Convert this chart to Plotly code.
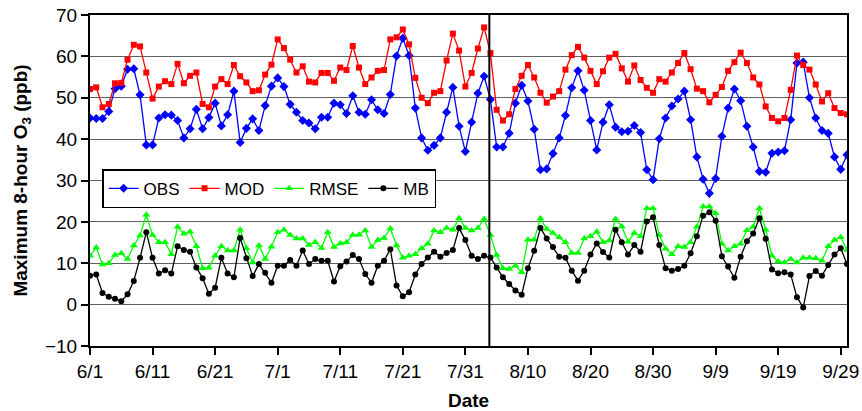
import pandas as pd
import plotly.graph_objects as go

dates = pd.date_range("2005-06-01", "2005-09-30", freq="D")

obs = [45.1, 45.0, 45.0, 46.7, 52.2, 52.8, 56.9, 57.0, 50.7, 38.6,
       38.6, 45.1, 45.9, 45.8, 44.5, 40.3, 42.5, 47.2, 42.5, 45.2,
       48.7, 43.2, 45.9, 51.6, 39.2, 42.6, 44.9, 42.1, 48.1, 52.8,
       54.8, 52.7, 48.4, 46.5, 44.5, 43.9, 42.5, 45.3, 45.3, 48.7,
       48.3, 46.2, 50.5, 46.5, 46.0, 49.5, 47.1, 46.2, 50.8, 60.1,
       64.4, 60.2, 47.5, 40.3, 37.3, 38.5, 40.3, 46.5, 52.5, 43.1,
       37.0, 44.1, 51.1, 55.2, 49.6, 38.1, 38.1, 41.4, 48.7, 53.0,
       49.2, 42.4, 32.6, 32.8, 36.5, 40.3, 45.7, 52.4, 56.5, 51.8,
       44.5, 37.4, 44.1, 48.3, 42.9, 41.8, 41.9, 43.3, 41.6, 32.6,
       30.2, 40.1, 45.1, 48.0, 49.7, 51.6, 44.7, 35.7, 30.3, 26.9,
       30.5, 40.7, 47.5, 52.1, 49.3, 43.1, 38.1, 32.2, 32.0, 36.6,
       36.9, 37.2, 44.7, 58.4, 58.6, 50.0, 45.1, 42.1, 41.4, 35.7,
       32.7, 36.2]

mod = [52.1, 52.5, 47.7, 48.5, 53.5, 53.6, 59.2, 62.8, 62.4, 56.1,
       49.8, 52.7, 54.0, 53.3, 58.2, 53.5, 55.3, 56.1, 48.5, 47.7,
       52.7, 54.5, 53.3, 57.9, 55.2, 53.7, 51.6, 51.8, 55.6, 58.0,
       64.1, 62.0, 59.2, 56.1, 57.6, 53.9, 53.7, 56.0, 56.0, 54.1,
       57.3, 56.7, 62.5, 57.3, 53.3, 54.9, 56.5, 56.7, 64.1, 64.6,
       66.5, 62.9, 54.8, 50.0, 48.7, 51.2, 51.6, 59.0, 65.5, 61.4,
       52.7, 56.0, 61.9, 67.0, 60.8, 47.1, 44.5, 46.0, 52.1, 55.3,
       57.9, 54.9, 51.2, 48.8, 50.3, 51.6, 56.8, 60.3, 62.3, 59.7,
       56.5, 53.3, 56.4, 59.7, 60.6, 57.1, 53.9, 57.8, 54.3, 52.4,
       51.2, 54.5, 53.9, 56.1, 58.4, 60.8, 56.9, 52.2, 51.6, 48.9,
       50.7, 52.6, 56.5, 58.6, 60.9, 58.4, 54.9, 53.2, 47.9, 45.1,
       44.3, 45.1, 51.9, 60.2, 57.9, 56.8, 53.2, 49.1, 51.1, 47.5,
       46.3, 46.0]

rmse = [11.8, 13.8, 9.7, 10.0, 12.0, 12.4, 11.0, 14.3, 16.7, 21.7,
        16.8, 15.1, 15.1, 12.2, 18.8, 17.1, 17.6, 14.1, 8.8, 8.9,
        11.8, 14.1, 13.1, 13.1, 18.1, 13.6, 10.2, 14.3, 11.0, 14.0,
        17.5, 18.1, 16.8, 16.0, 16.0, 14.4, 15.1, 13.7, 17.5, 13.9,
        14.8, 15.1, 16.8, 16.9, 17.9, 13.9, 15.6, 16.1, 18.4, 14.3,
        11.3, 11.8, 12.2, 13.6, 14.7, 17.9, 17.5, 18.5, 18.1, 20.9,
        18.5, 17.9, 18.5, 20.7, 16.8, 12.0, 8.8, 8.6, 9.4, 7.8,
        15.7, 15.7, 20.8, 18.3, 17.3, 16.3, 15.1, 12.5, 12.5, 16.0,
        16.5, 17.6, 15.1, 15.5, 20.7, 18.9, 15.2, 17.3, 16.5, 23.3,
        23.3, 16.8, 13.5, 12.2, 14.1, 13.9, 15.1, 18.8, 23.7, 23.7,
        22.1, 14.7, 13.1, 14.1, 14.7, 18.0, 18.8, 23.3, 18.1, 11.8,
        10.4, 10.2, 11.0, 10.2, 11.3, 11.3, 11.2, 10.6, 14.1, 15.6,
        16.3, 13.2]

mb = [7.0, 7.3, 2.8, 1.9, 1.4, 0.8, 2.5, 5.7, 11.3, 17.5,
      11.3, 7.5, 8.3, 7.5, 14.1, 13.2, 12.8, 9.0, 6.4, 2.6,
      4.1, 11.3, 7.5, 6.6, 16.1, 11.2, 6.9, 9.8, 7.7, 5.3,
      9.4, 9.4, 10.8, 9.4, 13.1, 9.8, 11.0, 10.6, 10.6, 5.6,
      9.3, 10.4, 12.0, 11.0, 7.4, 5.3, 9.4, 10.6, 13.4, 4.6,
      2.0, 3.0, 7.3, 9.8, 11.4, 12.8, 11.6, 12.5, 13.2, 18.5,
      15.6, 11.8, 11.0, 11.8, 11.4, 9.0, 6.6, 5.0, 3.4, 2.4,
      8.8, 13.0, 18.5, 16.0, 13.9, 11.6, 11.3, 8.2, 5.8, 8.2,
      12.1, 14.8, 12.7, 11.4, 18.1, 15.1, 12.1, 14.4, 12.8, 20.1,
      21.1, 14.4, 8.8, 8.2, 8.6, 9.4, 12.4, 16.5, 21.5, 22.3,
      20.3, 11.7, 9.2, 6.5, 11.6, 15.3, 17.2, 20.9, 15.9, 8.5,
      7.6, 7.8, 7.3, 1.8, -0.7, 6.9, 8.1, 7.0, 9.6, 12.1,
      13.6, 9.8]

tick_dates = pd.date_range("2005-06-01", "2005-09-29", freq="10D")
tick_labels = ["6/1", "6/11", "6/21", "7/1", "7/11", "7/21", "7/31",
               "8/10", "8/20", "8/30", "9/9", "9/19", "9/29"]
y_ticks = list(range(-10, 71, 10))
divider_date = "2005-08-03 20:00"

FONT = "Liberation Sans, Arial, Helvetica, sans-serif"

series = [
    ("OBS", obs, "#0000FF", "diamond", 7),
    ("MOD", mod, "#FF0000", "square", 6),
    ("RMSE", rmse, "#00FF00", "triangle-up", 7),
    ("MB", mb, "#000000", "circle", 6),
]

fig = go.Figure()
for name, vals, color, sym, size in series:
    fig.add_trace(go.Scatter(
        x=dates, y=vals, name=name, mode="lines+markers",
        line=dict(color=color, width=1.3),
        marker=dict(symbol=sym, size=size, color=color),
    ))

fig.add_shape(type="line", xref="x", yref="paper",
              x0=divider_date, x1=divider_date, y0=0, y1=1,
              line=dict(color="black", width=2))

fig.update_layout(
    width=862, height=411,
    margin=dict(l=90, r=15, t=15, b=65),
    paper_bgcolor="white", plot_bgcolor="white",
    font=dict(family=FONT, size=19, color="black"),
    showlegend=True,
    legend=dict(
        orientation="h", x=0.016, y=0.534, xanchor="left", yanchor="top",
        bgcolor="white", bordercolor="black", borderwidth=1.5,
        font=dict(size=17), itemwidth=30, tracegroupgap=0,
    ),
    xaxis=dict(
        type="date", automargin=False,
        range=[dates[0], dates[-1]],
        tickmode="array", tickvals=tick_dates, ticktext=tick_labels,
        ticks="outside", ticklen=7, tickwidth=1.5, tickcolor="black",
        showline=True, linecolor="black", linewidth=2, mirror=True,
        showgrid=False, zeroline=False,
        tickfont=dict(size=19),
        title=dict(text="<b>Date</b>", font=dict(size=19), standoff=16),
    ),
    yaxis=dict(
        range=[-10, 70], tickmode="array", tickvals=y_ticks, automargin=False,
        ticks="outside", ticklen=7, tickwidth=1.5, tickcolor="black",
        showline=True, linecolor="black", linewidth=2, mirror=True,
        showgrid=True, gridcolor="#606060", gridwidth=1.3,
        zeroline=False,
        tickfont=dict(size=19),
        title=dict(text="<b>Maximum 8-hour O<sub>3</sub> (ppb)</b>",
                   font=dict(size=19), standoff=12),
    ),
)

fig.write_html("out.html")
